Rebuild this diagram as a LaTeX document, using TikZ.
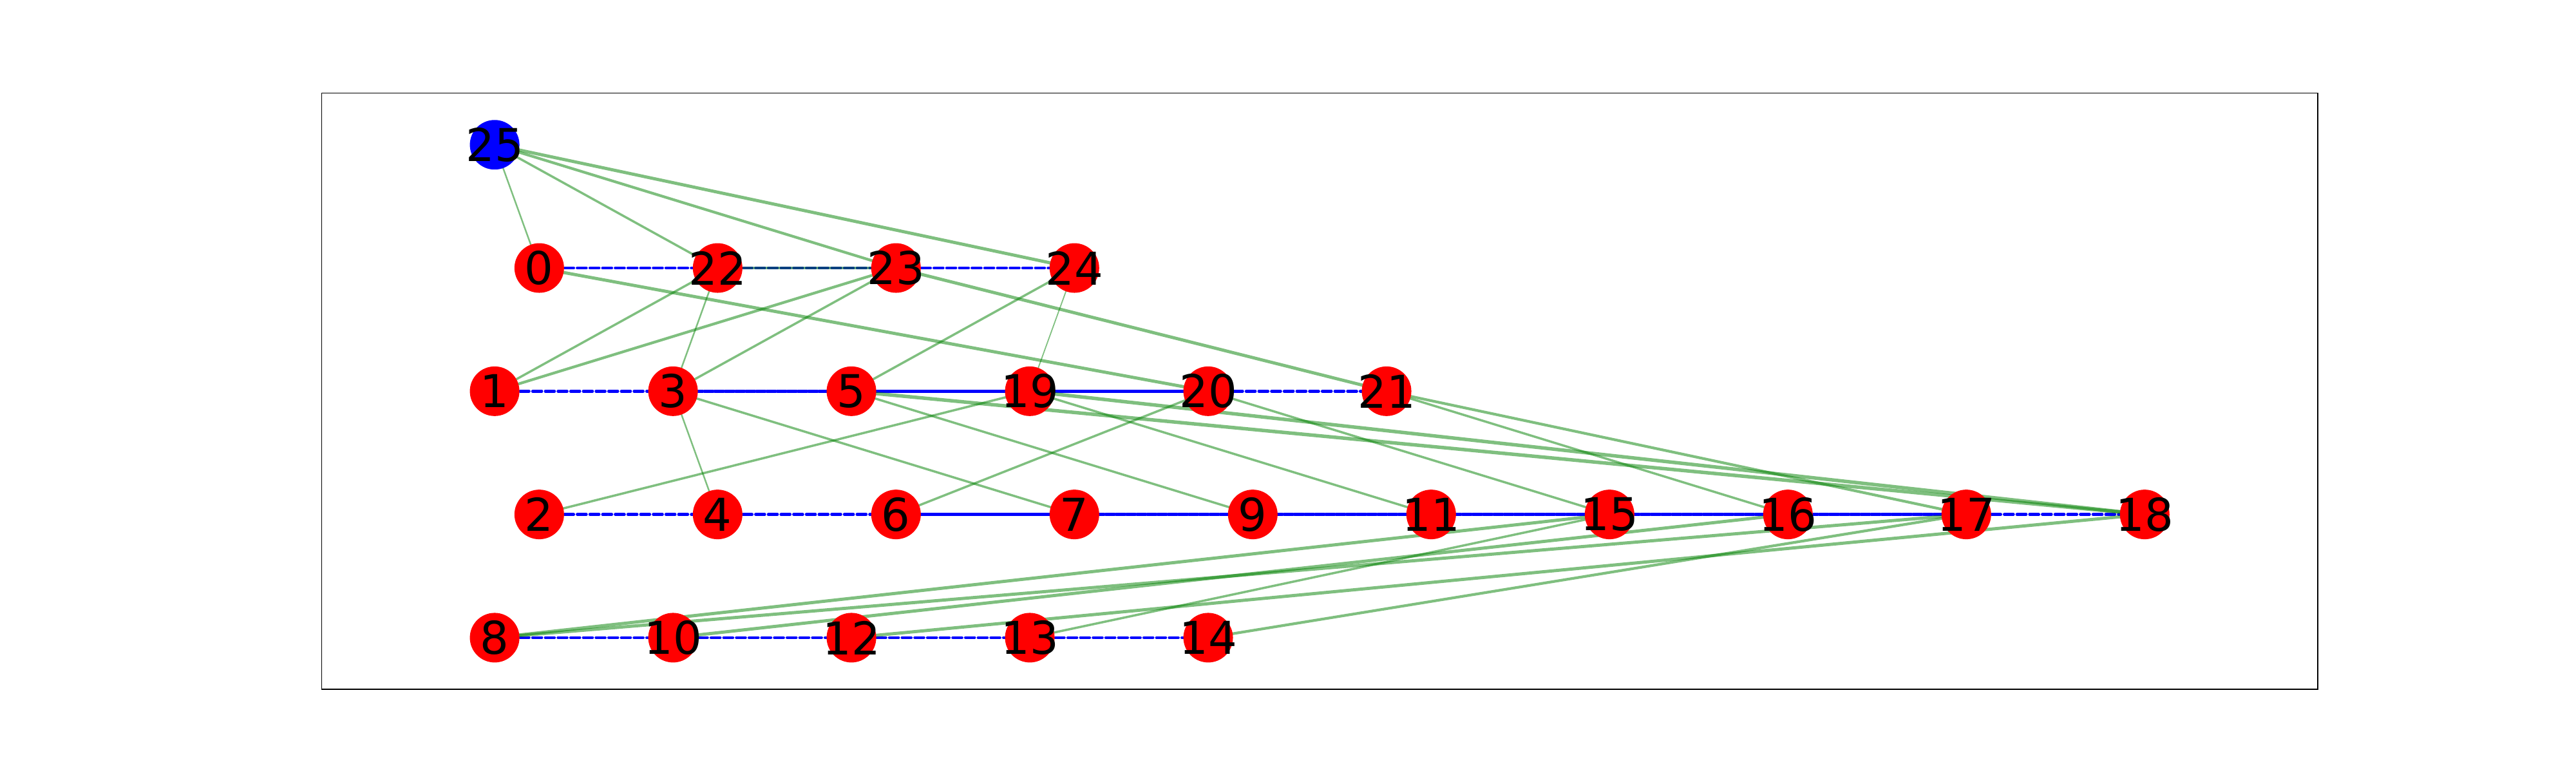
\documentclass[tikz,border=0pt]{standalone}
\usepackage{fontspec}
\setmainfont{DejaVu Sans}
\usepackage{tikz}
\usepackage{tkz-euclide}

\begin{document}
\begin{tikzpicture}[x=2.77cm, y=1.913cm,
    link/.style={draw={rgb,255:red,0;green,128;blue,0}, draw opacity=0.5},
    wt1/.style={link, line width=0.5pt},
    wt2/.style={link, line width=0.7pt},
    wt3/.style={link, line width=1pt},
    wt4/.style={link, line width=1.2pt},
    wt5/.style={link, line width=1.4pt},
    wt6/.style={link, line width=1.55pt},
    seq/.style={draw={rgb,255:red,0;green,0;blue,255}, line width=1.3pt, dash pattern=on 4pt off 1.6pt},
    seqdense/.style={seq, dash pattern=on 4pt off 0.6pt},
    seqfull/.style={seq, solid},
    vertex/.style={circle, fill=red, minimum size=0.77cm, inner sep=0pt},
    num/.style={font=\fontsize{20}{24}\selectfont, text=black, inner sep=0pt}]

    \useasboundingbox (-2.773,-1.098) rectangle (11.668,5.175);
    \draw[line width=0.45pt] (-0.97,-0.42) rectangle (10.22,4.42);

    \tkzDefPoint(0,4){n25}

    \tkzDefPoint(0.25,3){n0}
    \tkzDefPoint(1.25,3){n22}
    \tkzDefPoint(2.25,3){n23}
    \tkzDefPoint(3.25,3){n24}

    \tkzDefPoint(0,2){n1}
    \tkzDefPoint(1,2){n3}
    \tkzDefPoint(2,2){n5}
    \tkzDefPoint(3,2){n19}
    \tkzDefPoint(4,2){n20}
    \tkzDefPoint(5,2){n21}

    \tkzDefPoint(0.25,1){n2}
    \tkzDefPoint(1.25,1){n4}
    \tkzDefPoint(2.25,1){n6}
    \tkzDefPoint(3.25,1){n7}
    \tkzDefPoint(4.25,1){n9}
    \tkzDefPoint(5.25,1){n11}
    \tkzDefPoint(6.25,1){n15}
    \tkzDefPoint(7.25,1){n16}
    \tkzDefPoint(8.25,1){n17}
    \tkzDefPoint(9.25,1){n18}

    \tkzDefPoint(0,0){n8}
    \tkzDefPoint(1,0){n10}
    \tkzDefPoint(2,0){n12}
    \tkzDefPoint(3,0){n13}
    \tkzDefPoint(4,0){n14}

    \tkzDrawSegments[seq](n0,n22 n22,n23 n23,n24 n1,n3 n20,n21 n2,n4 n4,n6 n17,n18)
    \tkzDrawSegments[seq](n8,n10 n10,n12 n12,n13 n13,n14)
    \tkzDrawSegments[seqdense](n3,n5 n7,n9 n9,n11 n11,n15 n15,n16 n16,n17)
    \tkzDrawSegments[seqfull](n5,n19 n19,n20 n6,n7)

    \tkzDrawSegments[wt1](n24,n19)
    \tkzDrawSegments[wt2](n25,n0 n22,n3 n3,n4)
    \tkzDrawSegments[wt3](n25,n22 n22,n1 n23,n3 n24,n5 n3,n7 n5,n9 n2,n19 n6,n20)
    \tkzDrawSegments[wt3](n19,n11 n20,n15 n21,n16 n13,n15)
    \tkzDrawSegments[wt4](n25,n23 n23,n1 n22,n23 n21,n17 n14,n17)
    \tkzDrawSegments[wt5](n25,n24 n0,n20 n23,n21 n8,n15 n8,n17 n10,n16 n12,n18)
    \tkzDrawSegments[wt6](n5,n18 n19,n18)

    \node[vertex, fill=blue, label={[num]center:25}] (v25) at (n25) {};
    \node[vertex, label={[num]center:0}] (v0) at (n0) {};
    \node[vertex, label={[num]center:22}] (v22) at (n22) {};
    \node[vertex, label={[num]center:23}] (v23) at (n23) {};
    \node[vertex, label={[num]center:24}] (v24) at (n24) {};
    \node[vertex, label={[num]center:1}] (v1) at (n1) {};
    \node[vertex, label={[num]center:3}] (v3) at (n3) {};
    \node[vertex, label={[num]center:5}] (v5) at (n5) {};
    \node[vertex, label={[num]center:19}] (v19) at (n19) {};
    \node[vertex, label={[num]center:20}] (v20) at (n20) {};
    \node[vertex, label={[num]center:21}] (v21) at (n21) {};
    \node[vertex, label={[num]center:2}] (v2) at (n2) {};
    \node[vertex, label={[num]center:4}] (v4) at (n4) {};
    \node[vertex, label={[num]center:6}] (v6) at (n6) {};
    \node[vertex, label={[num]center:7}] (v7) at (n7) {};
    \node[vertex, label={[num]center:9}] (v9) at (n9) {};
    \node[vertex, label={[num]center:11}] (v11) at (n11) {};
    \node[vertex, label={[num]center:15}] (v15) at (n15) {};
    \node[vertex, label={[num]center:16}] (v16) at (n16) {};
    \node[vertex, label={[num]center:17}] (v17) at (n17) {};
    \node[vertex, label={[num]center:18}] (v18) at (n18) {};
    \node[vertex, label={[num]center:8}] (v8) at (n8) {};
    \node[vertex, label={[num]center:10}] (v10) at (n10) {};
    \node[vertex, label={[num]center:12}] (v12) at (n12) {};
    \node[vertex, label={[num]center:13}] (v13) at (n13) {};
    \node[vertex, label={[num]center:14}] (v14) at (n14) {};

\end{tikzpicture}
\end{document}
